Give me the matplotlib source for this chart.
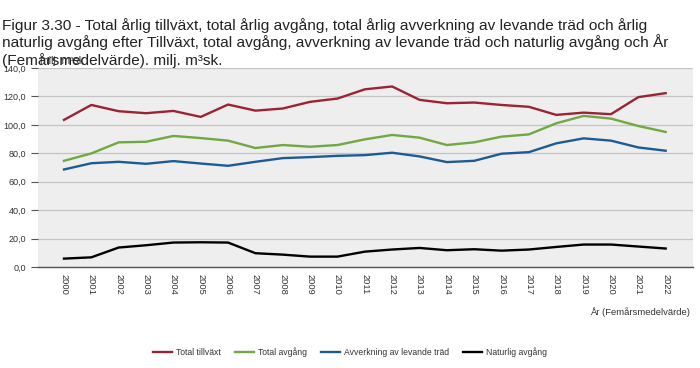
import matplotlib
matplotlib.use("Agg")
import matplotlib.pyplot as plt
from matplotlib.ticker import FuncFormatter

plt.rcParams['font.family'] = ['Liberation Sans', 'DejaVu Sans']

years = list(range(2000, 2023))
total_tillvaxt = [103.5, 114.0, 109.6, 108.2, 109.8, 105.6, 114.3, 110.0, 111.5, 116.2,
                  118.5, 125.0, 127.0, 117.6, 115.2, 115.7, 114.0, 112.7, 107.0, 108.6,
                  107.5, 119.5, 122.3]
total_avgang = [74.7, 79.9, 87.7, 88.1, 92.2, 90.7, 88.9, 83.7, 85.8, 84.6,
                85.8, 89.8, 92.9, 91.0, 85.8, 87.7, 91.7, 93.3, 101.1, 106.3,
                104.4, 99.2, 95.0]
avverkning = [68.6, 73.0, 74.0, 72.6, 74.5, 72.8, 71.2, 74.0, 76.6, 77.3,
              78.2, 78.7, 80.4, 77.8, 73.8, 74.7, 79.7, 80.8, 87.0, 90.5,
              88.9, 84.1, 81.8]
naturlig = [5.9, 6.8, 13.7, 15.3, 17.2, 17.4, 17.2, 9.7, 8.7, 7.3,
            7.3, 10.8, 12.3, 13.4, 11.8, 12.5, 11.5, 12.3, 14.1, 15.8,
            15.8, 14.4, 13.0]

title_lines = [
    "Figur 3.30 - Total årlig tillväxt, total årlig avgång, total årlig avverkning av levande träd och årlig",
    "naturlig avgång efter Tillväxt, total avgång, avverkning av levande träd och naturlig avgång och År",
    "(Femårsmedelvärde). milj. m³sk.",
]

series = [
    ("Total tillväxt", total_tillvaxt, "#9b2335"),
    ("Total avgång", total_avgang, "#71a843"),
    ("Avverkning av levande träd", avverkning, "#1d5b94"),
    ("Naturlig avgång", naturlig, "#000000"),
]

fig = plt.figure(figsize=(7, 3.68), dpi=100)
ax = fig.add_axes([38 / 700, 1 - 267 / 368, (693 - 38) / 700, (267 - 68) / 368])
ax.set_facecolor("#eeeeee")

x = list(range(len(years)))
for name, vals, col in series:
    ax.plot(x, vals, color=col, linewidth=1.7, label=name, solid_joinstyle="round")

ax.set_xlim(-0.95, 23.0)
ax.set_ylim(0, 140)
ax.set_yticks(range(0, 141, 20))
ax.yaxis.set_major_formatter(FuncFormatter(lambda v, p: f"{v:.1f}".replace(".", ",")))
ax.grid(axis="y", color="#c4c4c4", linewidth=0.9)
ax.set_axisbelow(True)

ax.set_xticks(x)
ax.set_xticklabels([str(y) for y in years], rotation=270, fontsize=6.7, color="#333333")
ax.tick_params(axis="x", length=0, pad=5)
ax.tick_params(axis="y", labelsize=6.5, labelcolor="#333333", length=5, color="#555555", width=0.8)

for s in ["top", "right", "left"]:
    ax.spines[s].set_visible(False)
ax.spines["bottom"].set_color("#555555")
ax.spines["bottom"].set_linewidth(1.0)

# title, one line at a time (baselines)
for line, base in zip(title_lines, [30, 47.5, 65]):
    fig.text(2 / 700, 1 - base / 368, line, ha="left", va="baseline",
             fontsize=11.1, color="#222222")
fig.text(40 / 700, 1 - 61 / 368, "milj. m³sk", ha="left", va="center", fontsize=7.5, color="#333333")

fig.text(690 / 700, 1 - 312 / 368, "År (Femårsmedelvärde)", ha="right", va="center",
         fontsize=6.8, color="#333333")

fig.legend(loc="center", bbox_to_anchor=(350 / 700, 1 - 352 / 368), ncol=4, frameon=False,
           fontsize=6.2, handlelength=2.2, handletextpad=0.5, columnspacing=1.6,
           labelcolor="#333333")

fig.savefig("out.png", dpi=100)
